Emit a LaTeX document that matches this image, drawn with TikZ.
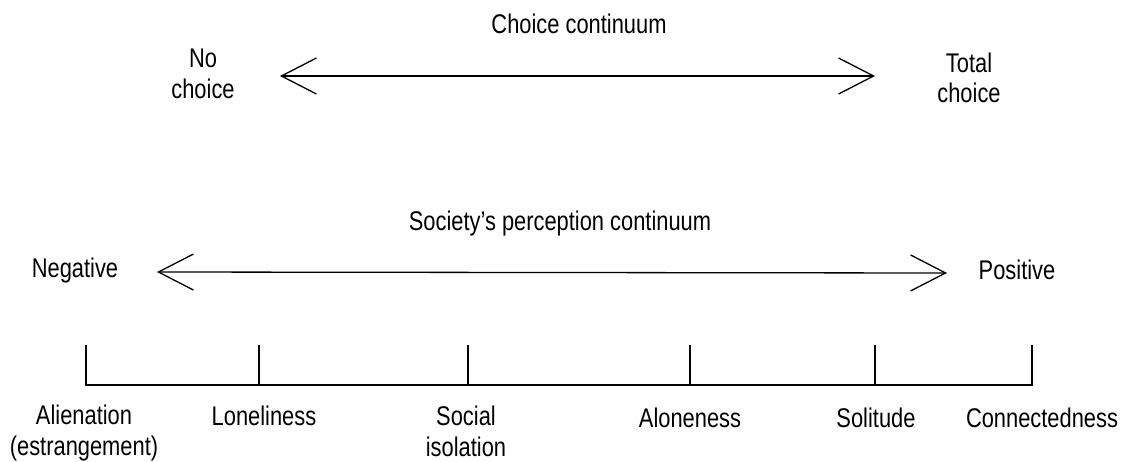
\documentclass[tikz,border=0pt]{standalone}
\usepackage{fontspec}
\setmainfont{Liberation Sans}[FakeStretch=0.81]
\usetikzlibrary{arrows.meta}
\begin{document}
\begin{tikzpicture}[x=1pt,y=-1pt,
  lbl/.style={font=\fontsize{27}{31}\selectfont, inner sep=0pt, anchor=base, align=center},
  biarrow/.style={line width=1.3pt, {Straight Barb[length=35pt,width=36pt]}-{Straight Barb[length=35pt,width=36pt]}},
  scaleline/.style={line width=1.3pt}]
\useasboundingbox (0,0) rectangle (1127,461);
% top continuum
\node[lbl] (choicecont) at (579,33) {Choice continuum};
\node[lbl] (nochoice1) at (203,67) {No};
\node[lbl] (nochoice2) at (203,98) {choice};
\node[lbl] (total1) at (969,72) {Total};
\node[lbl] (total2) at (969,102) {choice};
\coordinate (cL) at (280,76);
\coordinate (cR) at (875,76);
\draw[biarrow] (cL) -- (cR);
% society continuum
\node[lbl] (soccont) at (560,230) {Society’s perception continuum};
\node[lbl] (neg) at (75,277) {Negative};
\node[lbl] (pos) at (1017,279) {Positive};
\coordinate (sL) at (157,272);
\coordinate (sR) at (947,273);
\draw[biarrow] (sL) -- (sR);
% scale
\foreach \n/\x in {a/86,b/259,c/468,d/690,e/875,f/1032}{
  \coordinate (b-\n) at (\x,385);
  \coordinate (t-\n) at (\x,345);
}
\draw[scaleline] (t-a) -- (b-a) -- (b-f) -- (t-f);
\foreach \n in {b,c,d,e}{\draw[scaleline] (t-\n) -- (b-\n);}
\node[lbl] (alien1) at (84,424) {Alienation};
\node[lbl] (alien2) at (84,455) {(estrangement)};
\node[lbl] (lonely) at (264,425) {Loneliness};
\node[lbl] (social1) at (466,425) {Social};
\node[lbl] (social2) at (466,456) {isolation};
\node[lbl] (alone) at (690,427) {Aloneness};
\node[lbl] (solitude) at (876,427) {Solitude};
\node[lbl] (connect) at (1042,427) {Connectedness};
\end{tikzpicture}
\end{document}
